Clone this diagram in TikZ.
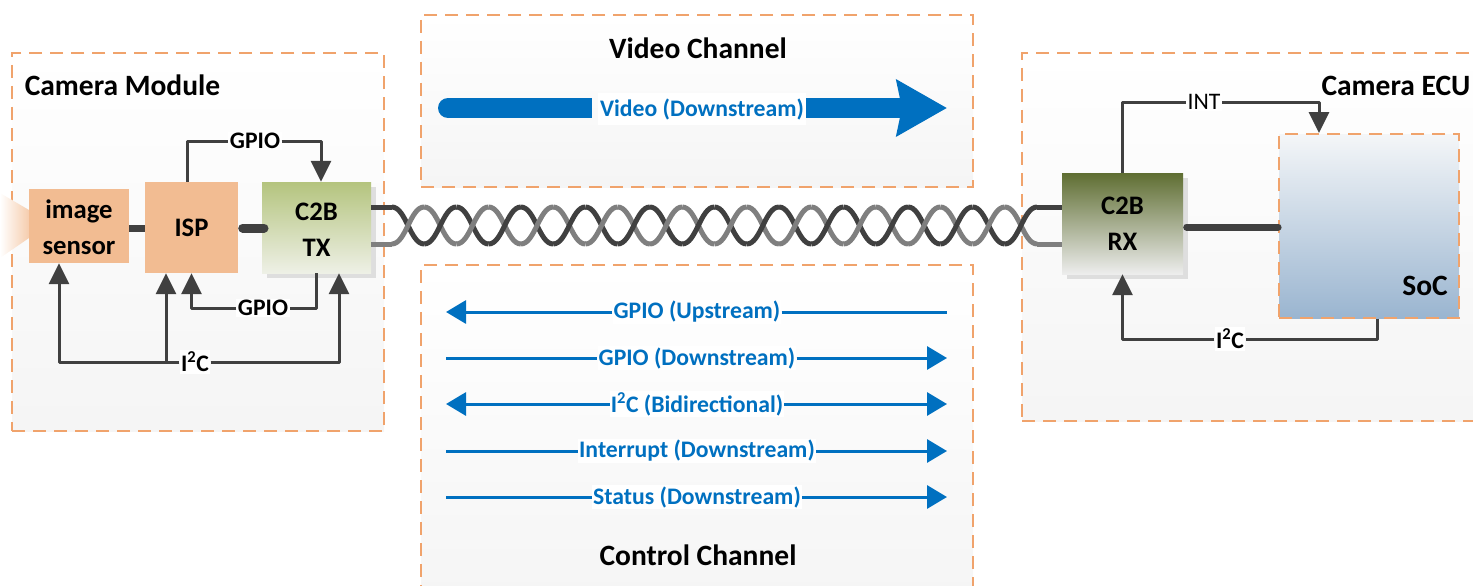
\documentclass[tikz,border=0pt]{standalone}
\usepackage{fontspec}
\setmainfont{Carlito}
\usetikzlibrary{arrows.meta,calc}
\definecolor{dashc}{HTML}{F0A36C}
\definecolor{linec}{HTML}{404040}
\definecolor{twistg}{HTML}{7F7F7F}
\definecolor{blu}{HTML}{0070C0}
\definecolor{orng}{HTML}{F2BC92}
\definecolor{txa}{HTML}{B4C47E}
\definecolor{txb}{HTML}{EEF0E6}
\definecolor{rxa}{HTML}{5F6E32}
\definecolor{soca}{HTML}{F4F6F8}
\definecolor{socb}{HTML}{9AB5D0}
\tikzset{
  x=1pt,y=-1pt,
  areabox/.style={rectangle,inner sep=0pt,top color=white,bottom color=white!96!black,draw=dashc,line width=1.8pt,dash pattern=on 13pt off 8pt},
  block/.style={rectangle,inner sep=0pt,align=center,font=\fontsize{26.7}{36}\selectfont\bfseries},
  title/.style={inner sep=0pt,font=\fontsize{29.5}{32}\selectfont\bfseries},
  conn/.style={draw=linec,line width=3pt,line join=round},
  tip/.style={-{Triangle[length=21pt,width=20pt]}},
  lab/.style={fill=white,inner sep=1.5pt,text=black,font=\fontsize{23.7}{25}\selectfont\bfseries},
  lab2/.style={fill=white,inner sep=1.5pt,text=black,font=\fontsize{23.7}{25}\selectfont},
  blab/.style={fill=white,inner sep=1pt,text=blu,font=\fontsize{23.7}{25}\selectfont\bfseries},
  barrow/.style={draw=blu,line width=3pt},
  btip/.style={-{Triangle[length=20pt,width=23pt]}},
  shadowbox/.style={fill=black!13,draw=none},
}
\begin{document}
\begin{tikzpicture}
\useasboundingbox (0,0) rectangle (1473,586);
\clip (0,0) rectangle (1473,586);
% area boxes
\node[areabox,minimum width=372pt,minimum height=378pt] (cam) at (198,242) {};
\node[areabox,minimum width=552pt,minimum height=172pt] (vid) at (697,101) {};
\node[areabox,minimum width=552pt,minimum height=340pt] (ctl) at (697,435) {};
\node[areabox,minimum width=470pt,minimum height=368pt] (ecu) at (1257,237) {};
% glow
\shade[left color=white,right color=orng!75!white] (0,193) -- (29,210) -- (29,238) -- (0,258) -- cycle;
% blocks
\node[block,fill=orng,minimum width=100pt,minimum height=74pt] (sensor) at (79,226) {\rule{0pt}{21pt}image\\sensor};
\node[block,fill=orng,minimum width=93pt,minimum height=91pt] (isp) at (191.5,227.5) {ISP};
\fill[shadowbox] (267,187) rectangle (376,278);
\node[block,top color=txa,bottom color=txb,minimum width=109pt,minimum height=91pt] (tx) at (316.5,227.5) {\rule{0pt}{22pt}C2B\\TX};
\fill[shadowbox] (1067,178) rectangle (1188,279);
\node[block,top color=rxa,bottom color=black!7,minimum width=121pt,minimum height=101pt] (rx) at (1122.5,223.5) {C2B\\RX};
\node[rectangle,inner sep=0pt,top color=soca,bottom color=socb,draw=dashc,line width=1.8pt,dash pattern=on 13pt off 8pt,minimum width=180pt,minimum height=184pt] (soc) at (1369,226) {};
% titles
\node[title] (tcam) at (122.5,85) {Camera Module};
\node[title] (tvid) at (698,48) {Video Channel};
\node[title] (tctl) at (698,555) {Control Channel};
\node[title] (tecu) at (1396,86) {Camera ECU};
\node[title] (tsoc) at (1425,286) {SoC};
% thick links
\draw[linec,line width=7pt] (sensor.east |- 0,228) -- (isp.west |- 0,228);
\draw[linec,line width=9pt,line cap=round] ([xshift=4.5pt]isp.east |- 0,228) -- (264,228);
\draw[linec,line width=7pt,line cap=round] ([xshift=3.5pt]rx.east |- 0,227) -- (soc.west |- 0,227);
% labels
\node[lab] (g1) at (255,141) {GPIO};
\node[lab] (g2) at (263,308) {GPIO};
\node[lab] (i1) at (195,362) {I\textsuperscript{2}C};
\node[lab2] (int) at (1204,102) {INT};
\node[lab] (i2) at (1230,339) {I\textsuperscript{2}C};
% module connectors
\draw[conn] ([xshift=-4.5pt]isp.north) |- (g1.west);
\draw[conn,tip] (g1.east) -| ([xshift=4.5pt]tx.north);
\draw[conn] (tx.south) |- (g2.east);
\draw[conn,tip] (g2.west) -| (isp.south);
\draw[conn,tip] (i1.west) -| ([xshift=-20pt]sensor.south);
\coordinate (ispin) at ([xshift=-25.5pt]isp.south);
\draw[conn,tip] (ispin |- i1.west) -- (ispin);
\draw[conn,tip] (i1.east) -| ([xshift=22.5pt]tx.south);
% ecu connectors
\draw[conn] (rx.north) |- (int.west);
\draw[conn,tip] (int.east) -| ([xshift=-50pt]soc.north);
\draw[conn] ([xshift=8pt]soc.south) |- (i2.east);
\draw[conn,tip] (i2.west) -| (rx.south);
% twisted pair
\coordinate (tl) at (tx.east |- 0,207);
\coordinate (bl) at (tx.east |- 0,244);
\coordinate (tr) at (rx.west |- 0,207);
\coordinate (br) at (rx.west |- 0,244);
\draw[linec,line width=5pt] (tl) -- (392,207);
\draw[twistg,line width=5pt] (bl) -- (392,244);
\draw[linec,line width=5pt] (1037,207) -- (tr);
\draw[twistg,line width=5pt] (1037,244) -- (br);
\foreach \i in {0,...,19}{
  \pgfmathsetmacro{\xa}{391.87+32.26*\i}
  \pgfmathsetmacro{\xb}{\xa+32.26}
  \pgfmathsetmacro{\ca}{\xa+14}
  \pgfmathsetmacro{\cb}{\xb-14}
  \pgfmathtruncatemacro{\odd}{mod(\i,2)}
  \ifnum\odd=0
    \draw[linec,line width=5pt] (\xa,207) .. controls (\ca,207) and (\cb,244) .. (\xb,244);
    \draw[twistg,line width=5pt] (\xa,244) .. controls (\ca,244) and (\cb,207) .. (\xb,207);
  \else
    \draw[twistg,line width=5pt] (\xa,207) .. controls (\ca,207) and (\cb,244) .. (\xb,244);
    \draw[linec,line width=5pt] (\xa,244) .. controls (\ca,244) and (\cb,207) .. (\xb,207);
  \fi
}
% video arrow
\node[blab,minimum height=32pt,minimum width=208pt] (lv) at (702,109) {Video (Downstream)};
\coordinate (vs) at (448,108);
\coordinate (ve) at (947,108);
\fill[blu] (vs) circle[radius=10pt];
\fill[blu] (448,98) rectangle ([xshift=-6pt]lv.west |- 0,118);
\draw[blu,line width=20pt,-{Stealth[length=50pt,width=55pt,inset=5pt]}] (lv.east |- ve) -- (ve);
% control arrows
\foreach \n/\y/\txt in {a/312/GPIO (Upstream),b/358/GPIO (Downstream),c/404/I\textsuperscript{2}C (Bidirectional),d/451/Interrupt (Downstream),e/497/Status (Downstream)}{
  \coordinate (l\n) at (446,\y);
  \coordinate (r\n) at (947,\y);
  \node[blab] (m\n) at (697,\y) {\txt};
}
\draw[barrow,btip] (ma.west) -- (la);
\draw[barrow] (ma.east) -- (ra);
\draw[barrow] (lb) -- (mb.west);
\draw[barrow,btip] (mb.east) -- (rb);
\draw[barrow,btip] (mc.west) -- (lc);
\draw[barrow,btip] (mc.east) -- (rc);
\draw[barrow] (ld) -- (md.west);
\draw[barrow,btip] (md.east) -- (rd);
\draw[barrow] (le) -- (me.west);
\draw[barrow,btip] (me.east) -- (re);
\end{tikzpicture}
\end{document}
